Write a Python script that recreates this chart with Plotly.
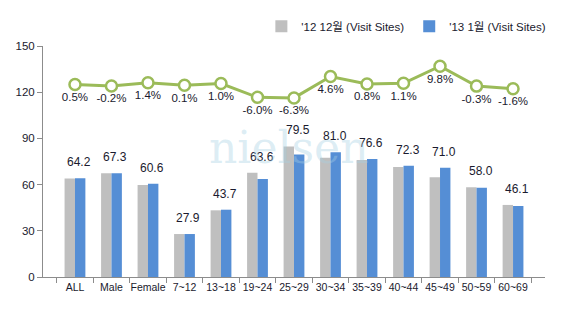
import plotly.graph_objects as go

categories = ["ALL", "Male", "Female", "7~12", "13~18", "19~24", "25~29", "30~34",
              "35~39", "40~44", "45~49", "50~59", "60~69"]
dec12 = [63.9, 67.4, 59.8, 27.9, 43.3, 67.7, 84.8, 77.4, 76.0, 71.5, 64.7, 58.2, 46.8]
jan13 = [64.2, 67.3, 60.6, 27.9, 43.7, 63.6, 79.5, 81.0, 76.6, 72.3, 71.0, 58.0, 46.1]
growth = [0.5, -0.2, 1.4, 0.1, 1.0, -6.0, -6.3, 4.6, 0.8, 1.1, 9.8, -0.3, -1.6]
y_ticks = [0, 30, 60, 90, 120, 150]

FONT = "Liberation Sans, Noto Sans CJK KR, sans-serif"
TXT = "#1a1a2e"

fig = go.Figure()
fig.add_trace(go.Bar(x=categories, y=dec12, name="'12 12월 (Visit Sites)",
                     marker_color="#BFBFBF", marker_line_width=0))
fig.add_trace(go.Bar(x=categories, y=jan13, name="'13 1월 (Visit Sites)",
                     marker_color="#558ED5", marker_line_width=0))
fig.add_trace(go.Scatter(x=categories, y=growth, yaxis="y2", mode="lines+markers+text",
                         text=[f"{g:.1f}%" for g in growth], textposition="bottom center",
                         textfont=dict(family=FONT, size=11.5, color=TXT),
                         line=dict(color="#9BBB59", width=3),
                         marker=dict(size=11, color="white", line=dict(color="#9BBB59", width=2.5)),
                         showlegend=False, cliponaxis=False))

for c, a, b in zip(categories, dec12, jan13):
    fig.add_annotation(x=c, y=max(a, b), text=f"{b:.1f}", showarrow=False,
                       yanchor="bottom", yshift=7, xshift=4,
                       font=dict(family=FONT, size=12, color=TXT))

fig.add_annotation(x=(207 - 43) / 502, y=(277 - 145) / 235, xref="paper", yref="paper",
                   text="nielsen", showarrow=False, xanchor="left", yanchor="middle",
                   font=dict(family="DejaVu Serif", size=44, color="rgba(165,208,228,0.38)"))

fig.update_layout(
    width=569, height=325,
    margin=dict(l=43, r=24, t=42, b=48),
    paper_bgcolor="white", plot_bgcolor="white",
    barmode="group", bargap=0.43, bargroupgap=0,
    font=dict(family=FONT, size=11, color=TXT),
    legend=dict(orientation="h", x=0.435, y=1.085, xanchor="left", yanchor="middle",
                font=dict(family=FONT, size=11.5, color=TXT), itemwidth=30,
                bgcolor="rgba(0,0,0,0)"),
    xaxis=dict(showgrid=False, showline=True, linecolor="#8c8c8c", linewidth=1,
               ticks="outside", tickson="boundaries", ticklen=5, tickcolor="#8c8c8c",
               tickangle=0, tickfont=dict(family=FONT, size=10.5, color=TXT)),
    yaxis=dict(range=[0, 150], tickvals=y_ticks, showgrid=False, showline=True,
               linecolor="#8c8c8c", linewidth=1, ticks="outside", ticklen=5,
               tickcolor="#8c8c8c", zeroline=False,
               tickfont=dict(family=FONT, size=11.5, color=TXT)),
    yaxis2=dict(range=[-97.4, 20.1], overlaying="y", side="right", visible=False),
)

fig.write_html("out.html")
